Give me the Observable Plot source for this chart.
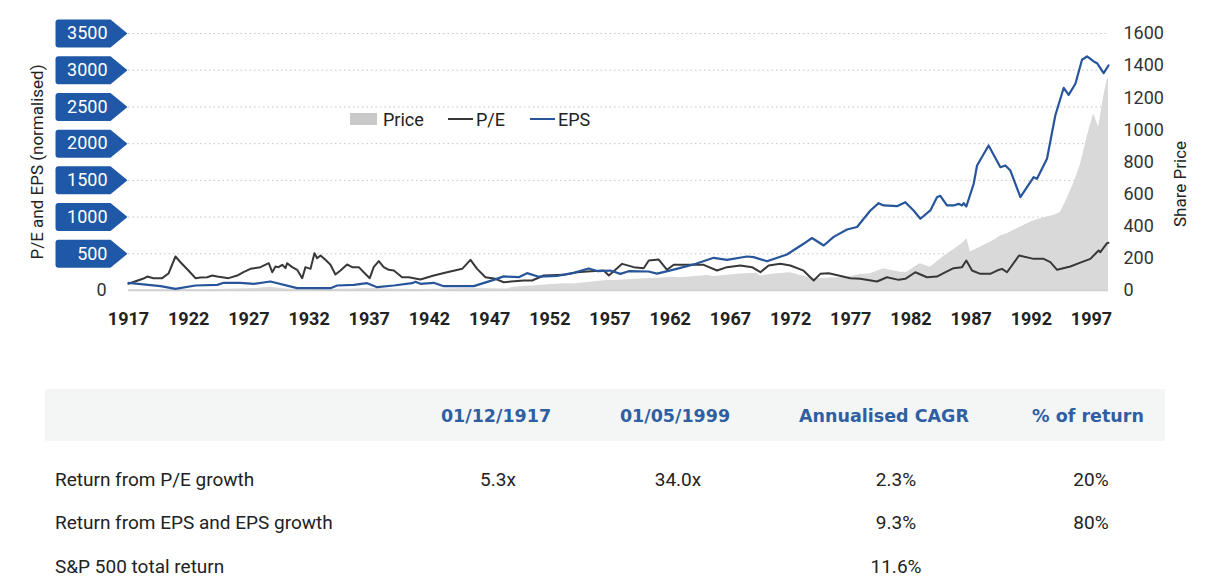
<!DOCTYPE html>
<html><head><meta charset="utf-8">
<script src="https://cdn.jsdelivr.net/npm/d3@7"></script>
<script src="https://cdn.jsdelivr.net/npm/@observablehq/plot@0.6"></script>
<style>
body{margin:0;background:#fff;font-family:Roboto,"Noto Sans",sans-serif;color:#222;}
#wrap{position:relative;width:1212px;height:586px;overflow:hidden;}
#chart{position:absolute;left:0;top:0;}
.abs{position:absolute;white-space:nowrap;}
.lg{font-size:18px;color:#222;transform:translateY(-50%);}
.band{position:absolute;left:45px;top:389px;width:1120px;height:52px;background:#f4f6f6;border-radius:2px;}
.hd{font-family:"DejaVu Sans",sans-serif;font-weight:700;font-size:17.5px;color:#2f5fa3;transform:translate(-50%,-50%);}
.cell{font-size:19px;color:#222;transform:translate(-50%,-50%);}
.rowlab{font-size:19px;color:#222;transform:translateY(-50%);}
</style></head><body><div id="wrap"><div id="chart"></div></div>
<script>
// ---- data (decimal year, value) ----
const peSeries = [[1917.92,91],[1919.17,163],[1919.47,190],[1920.0,168],[1920.72,168],[1921.24,231],[1921.82,463],[1922.24,385],[1922.9,272],[1923.48,168],[1923.9,177],[1924.46,181],[1924.87,204],[1925.29,190],[1926.23,168],[1926.95,204],[1927.47,249],[1928.05,295],[1928.88,318],[1929.57,372],[1929.86,249],[1930.13,327],[1930.38,318],[1930.69,350],[1930.96,304],[1931.1,372],[1931.52,318],[1931.93,282],[1932.35,168],[1932.62,318],[1933.04,295],[1933.37,508],[1933.59,440],[1933.87,477],[1934.28,418],[1934.7,350],[1935.11,218],[1935.53,272],[1936.08,354],[1936.5,318],[1937.05,318],[1937.46,249],[1937.96,168],[1938.29,318],[1938.71,400],[1939.12,318],[1939.54,282],[1939.96,272],[1940.65,181],[1941.2,181],[1942.17,150],[1943.28,204],[1944.39,249],[1945.64,295],[1946.33,418],[1946.88,295],[1947.57,181],[1948.4,159],[1949.09,113],[1950.75,136],[1951.45,136],[1952.41,204],[1954.08,213],[1955.19,249],[1956.02,259],[1957.4,272],[1957.82,204],[1958.23,263],[1958.93,363],[1959.89,318],[1960.72,304],[1961.14,408],[1961.97,422],[1962.66,282],[1963.21,350],[1964.87,350],[1965.7,350],[1966.81,272],[1967.64,318],[1968.75,340],[1969.72,318],[1970.41,249],[1971.1,340],[1972.07,363],[1972.9,340],[1974.0,270],[1974.84,136],[1975.39,227],[1976.08,236],[1976.91,204],[1977.88,168],[1978.71,159],[1980.1,123],[1980.93,181],[1981.9,145],[1982.45,159],[1983.28,249],[1984.25,181],[1985.08,190],[1985.63,236],[1986.46,304],[1987.16,318],[1987.52,408],[1987.99,272],[1988.68,227],[1989.51,227],[1990.07,272],[1990.49,295],[1990.9,249],[1991.9,477],[1993.11,431],[1993.94,431],[1994.5,386],[1995.06,282],[1996.16,327],[1996.99,380],[1997.82,431],[1998.51,545],[1998.65,522],[1999.21,644],[1999.33,650]];

const epsSeries = [[1917.92,105],[1920.58,59],[1921.82,23],[1923.48,68],[1925.29,77],[1925.83,105],[1927.22,105],[1928.33,91],[1929.71,123],[1931.93,32],[1934.7,32],[1935.25,68],[1936.64,77],[1937.74,100],[1938.58,45],[1939.96,68],[1941.48,100],[1941.76,118],[1942.17,91],[1943.28,105],[1944.11,59],[1946.6,59],[1948.26,145],[1949.09,192],[1950.34,181],[1951.03,236],[1952.0,188],[1953.52,200],[1954.9,240],[1956.15,300],[1956.85,265],[1957.95,272],[1958.78,227],[1959.47,263],[1961.11,259],[1961.83,230],[1963.21,285],[1964.87,355],[1966.53,445],[1967.64,418],[1969.3,463],[1969.85,454],[1970.96,399],[1972.62,490],[1974.0,636],[1974.7,715],[1975.67,613],[1976.5,730],[1977.61,831],[1978.44,865],[1979.55,1090],[1980.24,1189],[1980.65,1158],[1981.76,1148],[1982.45,1203],[1983.14,1090],[1983.7,977],[1984.53,1090],[1985.08,1271],[1985.36,1290],[1985.91,1158],[1986.46,1158],[1986.88,1180],[1987.16,1158],[1987.3,1189],[1987.52,1144],[1988.13,1453],[1988.41,1703],[1989.37,1975],[1990.35,1679],[1990.76,1703],[1991.18,1634],[1992.01,1271],[1993.11,1543],[1993.39,1521],[1994.22,1794],[1994.91,2384],[1995.61,2761],[1996.02,2665],[1996.58,2815],[1997.13,3142],[1997.55,3187],[1998.1,3119],[1998.38,3096],[1998.93,2960],[1999.33,3064]];

const priceSeries = [[1917.92,5],[1925,6],[1928.5,12],[1929.7,20],[1931,10],[1932.5,4],[1936.5,10],[1937.5,12],[1942,6],[1946.3,12],[1949.37,10],[1949.9,21],[1954.05,42],[1954.9,41],[1957.67,62],[1958.2,62],[1961.0,73],[1963.21,83],[1963.77,79],[1965.99,93],[1966.5,87],[1968.75,102],[1970.14,108],[1970.41,90],[1971.52,102],[1972.9,110],[1974.84,73],[1977.64,83],[1978.71,100],[1979.55,104],[1980.65,135],[1982.03,114],[1982.59,114],[1983.42,156],[1983.7,166],[1984.53,145],[1985.36,195],[1985.91,228],[1986.46,254],[1987.16,291],[1987.58,322],[1987.85,240],[1988.68,270],[1989.79,311],[1990.35,340],[1990.9,353],[1991.73,384],[1992.83,425],[1993.66,446],[1994.77,467],[1995.33,485],[1995.88,570],[1996.43,664],[1996.99,780],[1997.55,954],[1998.1,1100],[1998.51,1017],[1998.93,1204],[1999.21,1307],[1999.33,1328]];

const leftTicks = [0,500,1000,1500,2000,2500,3000,3500];
const rightTicks = [0,200,400,600,800,1000,1200,1400,1600];
const xTickYears = [1917,1922,1927,1932,1937,1942,1947,1952,1957,1962,1967,1972,1977,1982,1987,1992,1997];
const legendItems = [["Price","area"],["P/E","pe"],["EPS","eps"]];
const tableHeaders = ["01/12/1917","01/05/1999","Annualised CAGR","% of return"];
const tableRowLabels = ["Return from P/E growth","Return from EPS and EPS growth","S&P 500 total return"];
const tableCells = [["5.3x","34.0x","2.3%","20%"],["","","9.3%","80%"],["","","11.6%",""]];

// ---- styling / layout ----
const C = {pe:"#383838", eps:"#27559a", area:"#d9d9d9", tag:"#1f58a6"};
const k = 3500/1600; // share-price axis to left axis
const tagSymbol = {draw(ctx){
  const r=3;
  ctx.moveTo(-72+r,-14); ctx.lineTo(-17,-14); ctx.lineTo(0,0); ctx.lineTo(-17,14);
  ctx.lineTo(-72+r,14); ctx.arcTo(-72,14,-72,14-r,r); ctx.lineTo(-72,-14+r);
  ctx.arcTo(-72,-14,-72+r,-14,r); ctx.closePath();
}};

const chart = Plot.plot({
  width:1212, height:345,
  marginLeft:128, marginRight:104, marginTop:33, marginBottom:55,
  style:{fontFamily:"Roboto, sans-serif", background:"transparent", overflow:"visible"},
  x:{domain:[1917.92,1999.33], axis:null},
  y:{domain:[0,3500], axis:null},
  marks:[
    Plot.ruleY(leftTicks.filter(d=>d>0), {stroke:"#c4c4c4", strokeDasharray:"1.5,3", strokeWidth:1}),
    Plot.areaY(priceSeries, {x:d=>d[0], y:d=>d[1]*k, fill:C.area}),
    Plot.ruleY([0], {stroke:"#d0d0d0", strokeWidth:1.5}),
    Plot.line(peSeries, {x:d=>d[0], y:d=>d[1], stroke:C.pe, strokeWidth:2}),
    Plot.line(epsSeries, {x:d=>d[0], y:d=>d[1], stroke:C.eps, strokeWidth:2.2}),
    Plot.dot(leftTicks.filter(d=>d>0), {y:d=>d, frameAnchor:"left", dx:-1, symbol:tagSymbol, fill:C.tag, stroke:null}),
    Plot.text(leftTicks.filter(d=>d>0), {y:d=>d, frameAnchor:"left", dx:-21, textAnchor:"end", lineAnchor:"middle", text:d=>String(d), fill:"white", fontSize:18}),
    Plot.text([0], {y:d=>d, frameAnchor:"left", dx:-22, textAnchor:"end", lineAnchor:"middle", text:d=>String(d), fill:"#333", fontSize:18}),
    Plot.text(rightTicks, {y:d=>d*k, frameAnchor:"right", dx:15, textAnchor:"start", lineAnchor:"middle", text:d=>String(d), fill:"#333", fontSize:18}),
    Plot.text(xTickYears, {x:d=>d+0.92, frameAnchor:"bottom", dy:29, textAnchor:"middle", lineAnchor:"middle", text:d=>String(d), fill:"#222", fontSize:18, fontWeight:"bold"}),
    Plot.text(["P/E and EPS (normalised)"], {frameAnchor:"left", dx:-91, textAnchor:"middle", lineAnchor:"middle", rotate:-90, fill:"#222", fontSize:17}),
    Plot.text(["Share Price"], {frameAnchor:"right", dx:72, dy:22, textAnchor:"middle", lineAnchor:"middle", rotate:-90, fill:"#222", fontSize:17})
  ]
});
document.getElementById("chart").appendChild(chart);

const wrap = document.getElementById("wrap");
function add(cls, text, left, top, extra){
  const d=document.createElement("div"); d.className="abs "+cls; d.textContent=text;
  d.style.left=left+"px"; d.style.top=top+"px"; if(extra) Object.assign(d.style, extra);
  wrap.appendChild(d); return d;
}
// legend
const legY = 119, legX = [350, 448, 530];
legendItems.forEach(([label,key],i)=>{
  const x = legX[i];
  if(key==="area") add("", "", x, legY-6, {width:"27px",height:"12px",background:"#c9c9c9"});
  else add("", "", x, legY-1, {width:"25px",height:"2px",background:key==="pe"?C.pe:C.eps});
  add("lg", label, x+(key==="area"?33:28), legY);
});
// table
const band=document.createElement("div"); band.className="band"; wrap.appendChild(band);
const colX = [496, 675, 884, 1088];
tableHeaders.forEach((h,i)=>add("hd", h, colX[i], 416));
const rowY = [479, 522, 566];
const cellX = [498, 678, 896, 1091];
tableRowLabels.forEach((lab,r)=>{
  add("rowlab", lab, 55, rowY[r]);
  tableCells[r].forEach((v,c)=>{ if(v) add("cell", v, cellX[c], rowY[r]); });
});
</script></body></html>
